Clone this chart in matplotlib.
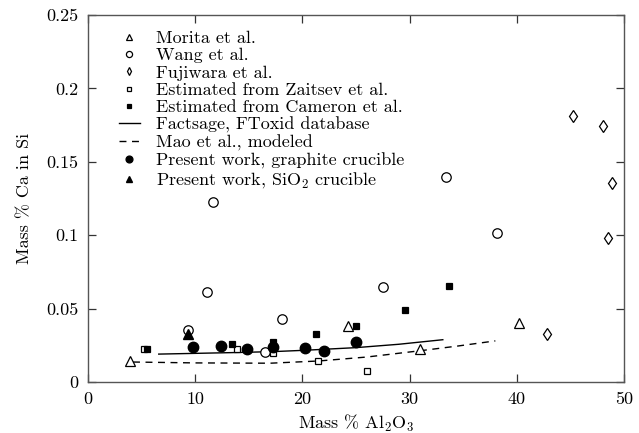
import matplotlib
matplotlib.use("Agg")
import matplotlib.pyplot as plt
import numpy as np

plt.rcParams['font.family'] = ['cmr10']
plt.rcParams['mathtext.fontset'] = 'cm'
plt.rcParams['axes.unicode_minus'] = False
plt.rcParams['font.size'] = 13

# Morita et al. (open triangles)
morita_x = [3.9, 24.3, 31.0, 40.2]
morita_y = [0.0145, 0.0384, 0.0227, 0.0404]
# Wang et al. (open circles)
wang_x = [9.3, 11.1, 11.7, 16.5, 18.1, 27.5, 33.4, 38.2]
wang_y = [0.0354, 0.061, 0.1226, 0.0204, 0.0427, 0.0645, 0.1394, 0.1013]
# Fujiwara et al. (open diamonds)
fuji_x = [42.8, 45.2, 48.0, 48.9, 48.5]
fuji_y = [0.0327, 0.1814, 0.1744, 0.1358, 0.0979]
# Estimated from Zaitsev et al. (open squares)
zait_x = [5.25, 13.9, 17.3, 21.5, 26.0]
zait_y = [0.0227, 0.0222, 0.0195, 0.0141, 0.0077]
# Estimated from Cameron et al. (filled squares)
cam_x = [5.5, 13.4, 17.3, 21.3, 25.0, 29.6, 33.7]
cam_y = [0.0227, 0.026, 0.0275, 0.0325, 0.0384, 0.049, 0.0654]
# Factsage, FToxid database (solid line)
fact_x = [6.6, 10.0, 14.0, 17.3, 20.2, 25.0, 29.0, 33.1]
fact_y = [0.0190, 0.0195, 0.0201, 0.0207, 0.0216, 0.0234, 0.0257, 0.0288]
# Mao et al., modeled (dashed line)
mao_x = [4.2, 10.0, 17.0, 21.5, 26.0, 31.0, 34.5, 38.0]
mao_y = [0.0136, 0.0130, 0.0128, 0.0143, 0.0170, 0.0213, 0.0245, 0.0280]
# Present work, graphite crucible (filled circles)
pg_x = [9.8, 12.4, 14.8, 17.3, 20.2, 22.0, 25.0]
pg_y = [0.024, 0.0245, 0.0227, 0.024, 0.023, 0.0211, 0.027]
# Present work, SiO2 crucible (filled triangle)
ps_x = [9.3]
ps_y = [0.0327]

xticks = [0, 10, 20, 30, 40, 50]
yticks = [0, 0.05, 0.1, 0.15, 0.2, 0.25]
ytick_labels = ['0', '0.05', '0.1', '0.15', '0.2', '0.25']

fig = plt.figure(figsize=(6.39, 4.33), dpi=100)
ax = fig.add_axes([0.1377, 0.1178, 0.8388, 0.8476])

mew = 0.9
ax.plot(morita_x, morita_y, ls='none', marker='^', ms=6.5, mfc='white', mec='black', mew=mew, label='Morita et al.', zorder=3)
ax.plot(wang_x, wang_y, ls='none', marker='o', ms=6.8, mfc='white', mec='black', mew=mew, label='Wang et al.', zorder=3)
ax.plot(fuji_x, fuji_y, ls='none', marker='d', ms=6.3, mfc='white', mec='black', mew=mew, label='Fujiwara et al.', zorder=3)
ax.plot(zait_x, zait_y, ls='none', marker='s', ms=5, mfc='white', mec='black', mew=mew, label='Estimated from Zaitsev et al.', zorder=3)
ax.plot(cam_x, cam_y, ls='none', marker='s', ms=5, mfc='black', mec='black', mew=mew, label='Estimated from Cameron et al.', zorder=3)
ax.plot(fact_x, fact_y, ls='-', color='black', lw=1.0, label='Factsage, FToxid database', zorder=2)
ax.plot(mao_x, mao_y, ls=(0, (5, 4)), color='black', lw=1.0, label='Mao et al., modeled', zorder=2)
ax.plot(pg_x, pg_y, ls='none', marker='o', ms=7.5, mfc='black', mec='black', label='Present work, graphite crucible', zorder=4)
ax.plot(ps_x, ps_y, ls='none', marker='^', ms=6.5, mfc='black', mec='black', label='Present work, SiO$_2$ crucible', zorder=4)

ax.set_xlim(0, 50)
ax.set_ylim(0, 0.25)
ax.set_xticks(xticks)
ax.set_xticklabels([str(t) for t in xticks])
ax.set_yticks(yticks)
ax.set_yticklabels(ytick_labels)
ax.tick_params(direction='in', length=6, width=0.9, top=True, right=True, labelsize=13, pad=7, color='#333333')
for s in ax.spines.values():
    s.set_color('#555555')
    s.set_linewidth(1.0)

ax.set_xlabel('Mass % Al$_2$O$_3$', fontsize=13, labelpad=4)
ax.set_ylabel('Mass % Ca in Si', fontsize=13, labelpad=10)

leg = ax.legend(loc='upper left', bbox_to_anchor=(0.03, 0.997), frameon=False,
                fontsize=13, markerscale=0.65, handlelength=1.2, handletextpad=0.9,
                labelspacing=0.09, borderpad=0.3)

fig.savefig('out.png', dpi=100)
